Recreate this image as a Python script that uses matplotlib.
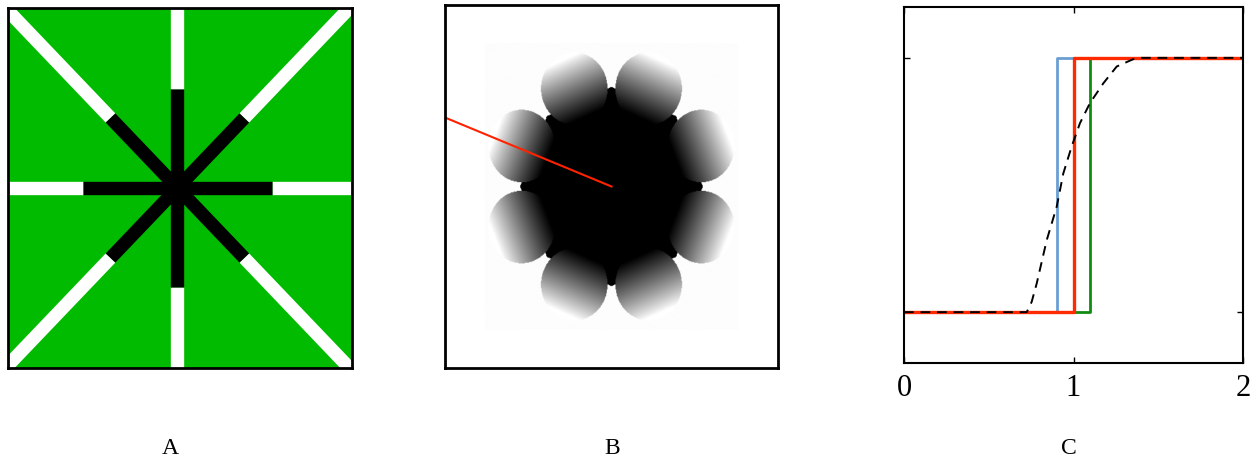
import numpy as np
import matplotlib
matplotlib.use("Agg")
import matplotlib.pyplot as plt

# panel A: eight rays, black inside r0, white outside
ray_angles = [0, 45, 90, 135, 180, 225, 270, 315]
r0 = 0.55

# panel B: blobs sit between rays
blob_angles = [22.5, 67.5, 112.5, 157.5, 202.5, 247.5, 292.5, 337.5]
blob_dist = 0.585
blob_rad = 0.2
probe_x = [0.0, -1.0]
probe_y = [0.0, 0.38]

# panel C: step thresholds and the smooth (dashed) curve
blue_step = 0.9
red_step = 1.0
green_step = 1.1
smooth_x = [0.0, 0.724, 0.753, 0.783, 0.842, 0.901, 0.940, 0.989, 1.038,
            1.097, 1.176, 1.255, 1.353, 1.40, 2.0]
smooth_y = [0.0, 0.0, 0.04, 0.113, 0.283, 0.415, 0.546, 0.651, 0.743,
            0.822, 0.900, 0.966, 0.995, 1.0, 1.0]

W, H = 1250, 462
fig = plt.figure(figsize=(W / 100, H / 100), dpi=100)
serif = ["Liberation Serif", "DejaVu Serif"]


def box(l, t, r, b):
    return [l / W, 1 - b / H, (r - l) / W, (b - t) / H]


# ---- A
ax = fig.add_axes(box(8, 8, 352, 368))
ax.set_facecolor("#00bb00")
for a in ray_angles:
    th = np.deg2rad(a)
    c, s = np.cos(th), np.sin(th)
    ax.plot([r0 * c, 2 * c], [r0 * s, 2 * s], color="white", lw=9.6,
            solid_capstyle="butt")
    ax.plot([0, r0 * c], [0, r0 * s], color="black", lw=9.6,
            solid_capstyle="butt")
ax.set_xlim(-0.985, 1.015)
ax.set_ylim(-1, 1)
ax.set_xticks([])
ax.set_yticks([])
for s in ax.spines.values():
    s.set_linewidth(2)

# ---- B
ax = fig.add_axes(box(445, 5, 778, 368))
n = 500
g = np.linspace(-1, 1, n)
X, Y = np.meshgrid(g, g)
ang = np.arctan2(Y, X) % (2 * np.pi)
k = np.floor(ang / (np.pi / 4)).astype(int) % 8
# core: octagon through the ray tips
val = np.ones_like(X)
for i in range(8):
    t1 = np.deg2rad(ray_angles[i])
    t2 = np.deg2rad(ray_angles[(i + 1) % 8])
    p1 = r0 * np.array([np.cos(t1), np.sin(t1)])
    p2 = r0 * np.array([np.cos(t2), np.sin(t2)])
    m = (p1 + p2) / 2
    nv = m / np.hypot(*m)
    dn = (X - m[0]) * nv[0] + (Y - m[1]) * nv[1]
    val[(k == i) & (dn <= 0)] = 0
val[(np.abs(X) < 0.76) & (np.abs(Y) < 0.79) & (val == 1)] = 0.99
for a in blob_angles:
    th = np.deg2rad(a)
    nv = np.array([np.cos(th), np.sin(th)])
    cx, cy = blob_dist * nv
    dx, dy = X - cx, Y - cy
    inside = dx ** 2 + dy ** 2 < blob_rad ** 2
    t = (dx * nv[0] + dy * nv[1]) / blob_rad
    dark = np.clip((0.85 - t) / 1.7, 0, 1) ** 0.9
    val[inside] = 1 - dark[inside]
ax.imshow(val, cmap="gray", vmin=0, vmax=1, extent=[-1, 1, -1, 1],
          origin="lower", aspect="auto", interpolation="bilinear")
ax.plot(probe_x, probe_y, color="#ff2200", lw=1.5)
ax.set_xlim(-1, 1)
ax.set_ylim(-1, 1)
ax.set_xticks([])
ax.set_yticks([])
for s in ax.spines.values():
    s.set_linewidth(2)

# ---- C
ax = fig.add_axes(box(904, 7, 1243, 363))
ax.plot([0, blue_step, 2], [0, 1, 1], drawstyle="steps-post", color="#6a9fd4", lw=2)
ax.plot([0, green_step, 2], [0, 1, 1], drawstyle="steps-post", color="#118c11", lw=2)
ax.plot([0, red_step, 2], [0, 1, 1], drawstyle="steps-post", color="#ff2a00", lw=2.4)
ax.plot(smooth_x, smooth_y, color="black", lw=1.4, ls=(0, (5, 3.5)))
ax.set_xlim(0, 2)
ax.set_ylim(-0.2, 1.2)
ax.set_xticks([0, 1, 2])
ax.set_yticks([0, 1])
ax.set_yticklabels([])
ax.tick_params(direction="in", length=4, width=1, top=True, right=True,
               labelsize=22, pad=8)
for lab in ax.get_xticklabels():
    lab.set_family(serif)
for s in ax.spines.values():
    s.set_linewidth(1.5)

for x, t in [(170, "A"), (612, "B"), (1069, "C")]:
    fig.text(x / W, 1 - 449 / H, t, ha="center", va="center", fontsize=17,
             family=serif)

fig.savefig("out.png", dpi=100)
